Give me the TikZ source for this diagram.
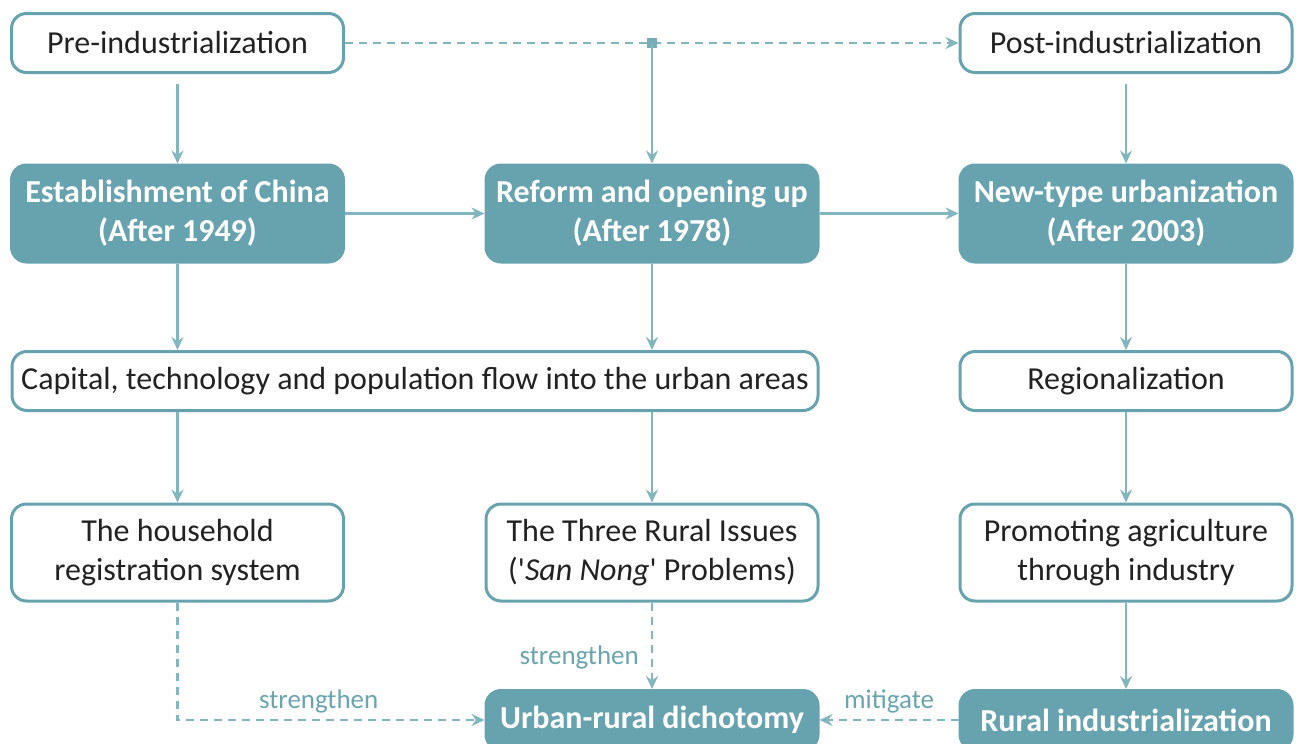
\documentclass[tikz,border=0pt]{standalone}
\usepackage{fontspec}
\setmainfont{Carlito}
\newfontfamily\qfont{Carlito}
\usetikzlibrary{arrows.meta}
\definecolor{teal1}{HTML}{66A3AF}
\definecolor{line1}{HTML}{82B6BF}
\definecolor{txt}{HTML}{222222}
\definecolor{lbl}{HTML}{6AA5AF}
\tikzset{
  x=0.5pt, y=-0.5pt,
  base/.style={rectangle, rounded corners=7.5pt, line width=1.5pt, align=center, inner sep=0pt,
    font=\fontsize{16}{19.5}\selectfont},
  wbox/.style={base, draw=teal1, fill=white, text=txt},
  fbox/.style={base, draw=teal1, fill=teal1, text=white, font=\fontsize{16}{19.5}\selectfont\bfseries},
  arr/.style={draw=line1, line width=1.2pt, -{Stealth[length=6.5pt, width=6pt, inset=2.2pt]}},
  darr/.style={arr, dash pattern=on 4pt off 3pt},
  lab/.style={text=lbl, font=\fontsize{13.5}{15}\selectfont, inner sep=0pt},
}
\begin{document}
\begin{tikzpicture}
\useasboundingbox (0,0) rectangle (1296,744);
% row 1
\node[wbox, minimum width=166pt, minimum height=29.5pt] (pre) at (177.5,43) {Pre-industrialization};
\node[wbox, minimum width=166pt, minimum height=29.5pt] (post) at (1126,43) {Post-industrialization};
% row 2
\node[fbox, minimum width=166pt, minimum height=48.5pt] (est) at (177.5,213.5) {Establishment of China\\(After 1949)};
\node[fbox, minimum width=166pt, minimum height=48.5pt] (ref) at (652,213.5) {Reform and opening up\\(After 1978)};
\node[fbox, minimum width=166pt, minimum height=48.5pt] (new) at (1126,213.5) {New-type urbanization\\(After 2003)};
% row 3
\node[wbox, minimum width=403pt, minimum height=29.5pt] (cap) at (415,381) {Capital, technology and population flow into the urban areas};
\node[wbox, minimum width=166pt, minimum height=29.5pt] (reg) at (1126,381) {Regionalization};
% row 4
\node[wbox, minimum width=166pt, minimum height=48.5pt] (hh) at (177.5,552.5) {The household\\registration system};
\node[wbox, minimum width=166pt, minimum height=48.5pt] (tri) at (652,552.5) {The Three Rural Issues\\({\qfont '}\textit{San Nong}{\qfont '} Problems)};
\node[wbox, minimum width=166pt, minimum height=48.5pt] (prom) at (1126,552.5) {Promoting agriculture\\through industry};
% row 5
\node[fbox, minimum width=166pt, minimum height=29.5pt] (urb) at (652,720) {Urban-rural dichotomy};
\node[fbox, minimum width=166pt, minimum height=29.5pt] (rin) at (1126,720) {Rural industrialization};
% top dashed line with junction
\coordinate (j) at (652,43);
\draw[darr] (pre.east) -- (post.west);
\fill[teal1!90] ([xshift=-2.5pt,yshift=-2.5pt]j) rectangle ([xshift=2.5pt,yshift=2.5pt]j);
\draw[arr] (j) -- (ref.north);
% solid arrows
\draw[arr, shorten <=5pt] (pre.south) -- (est.north);
\draw[arr, shorten <=5pt] (post.south) -- (new.north);
\draw[arr] (est.east) -- (ref.west);
\draw[arr] (ref.east) -- (new.west);
\draw[arr] (est.south) -- (est.south |- cap.north);
\draw[arr] (ref.south) -- (ref.south |- cap.north);
\draw[arr] (new.south) -- (reg.north);
\draw[arr] (hh.north |- cap.south) -- (hh.north);
\draw[arr] (tri.north |- cap.south) -- (tri.north);
\draw[arr] (reg.south) -- (prom.north);
\draw[arr] (prom.south) -- (rin.north);
% dashed arrows
\draw[darr] (tri.south) -- node[lab, left=6pt, yshift=-6pt] {strengthen} (urb.north);
\draw[darr] (hh.south) |- node[lab, pos=0.73, above=3pt] {strengthen} (urb.west);
\draw[darr] (rin.west) -- node[lab, above=3pt] {mitigate} (urb.east);
\end{tikzpicture}
\end{document}
